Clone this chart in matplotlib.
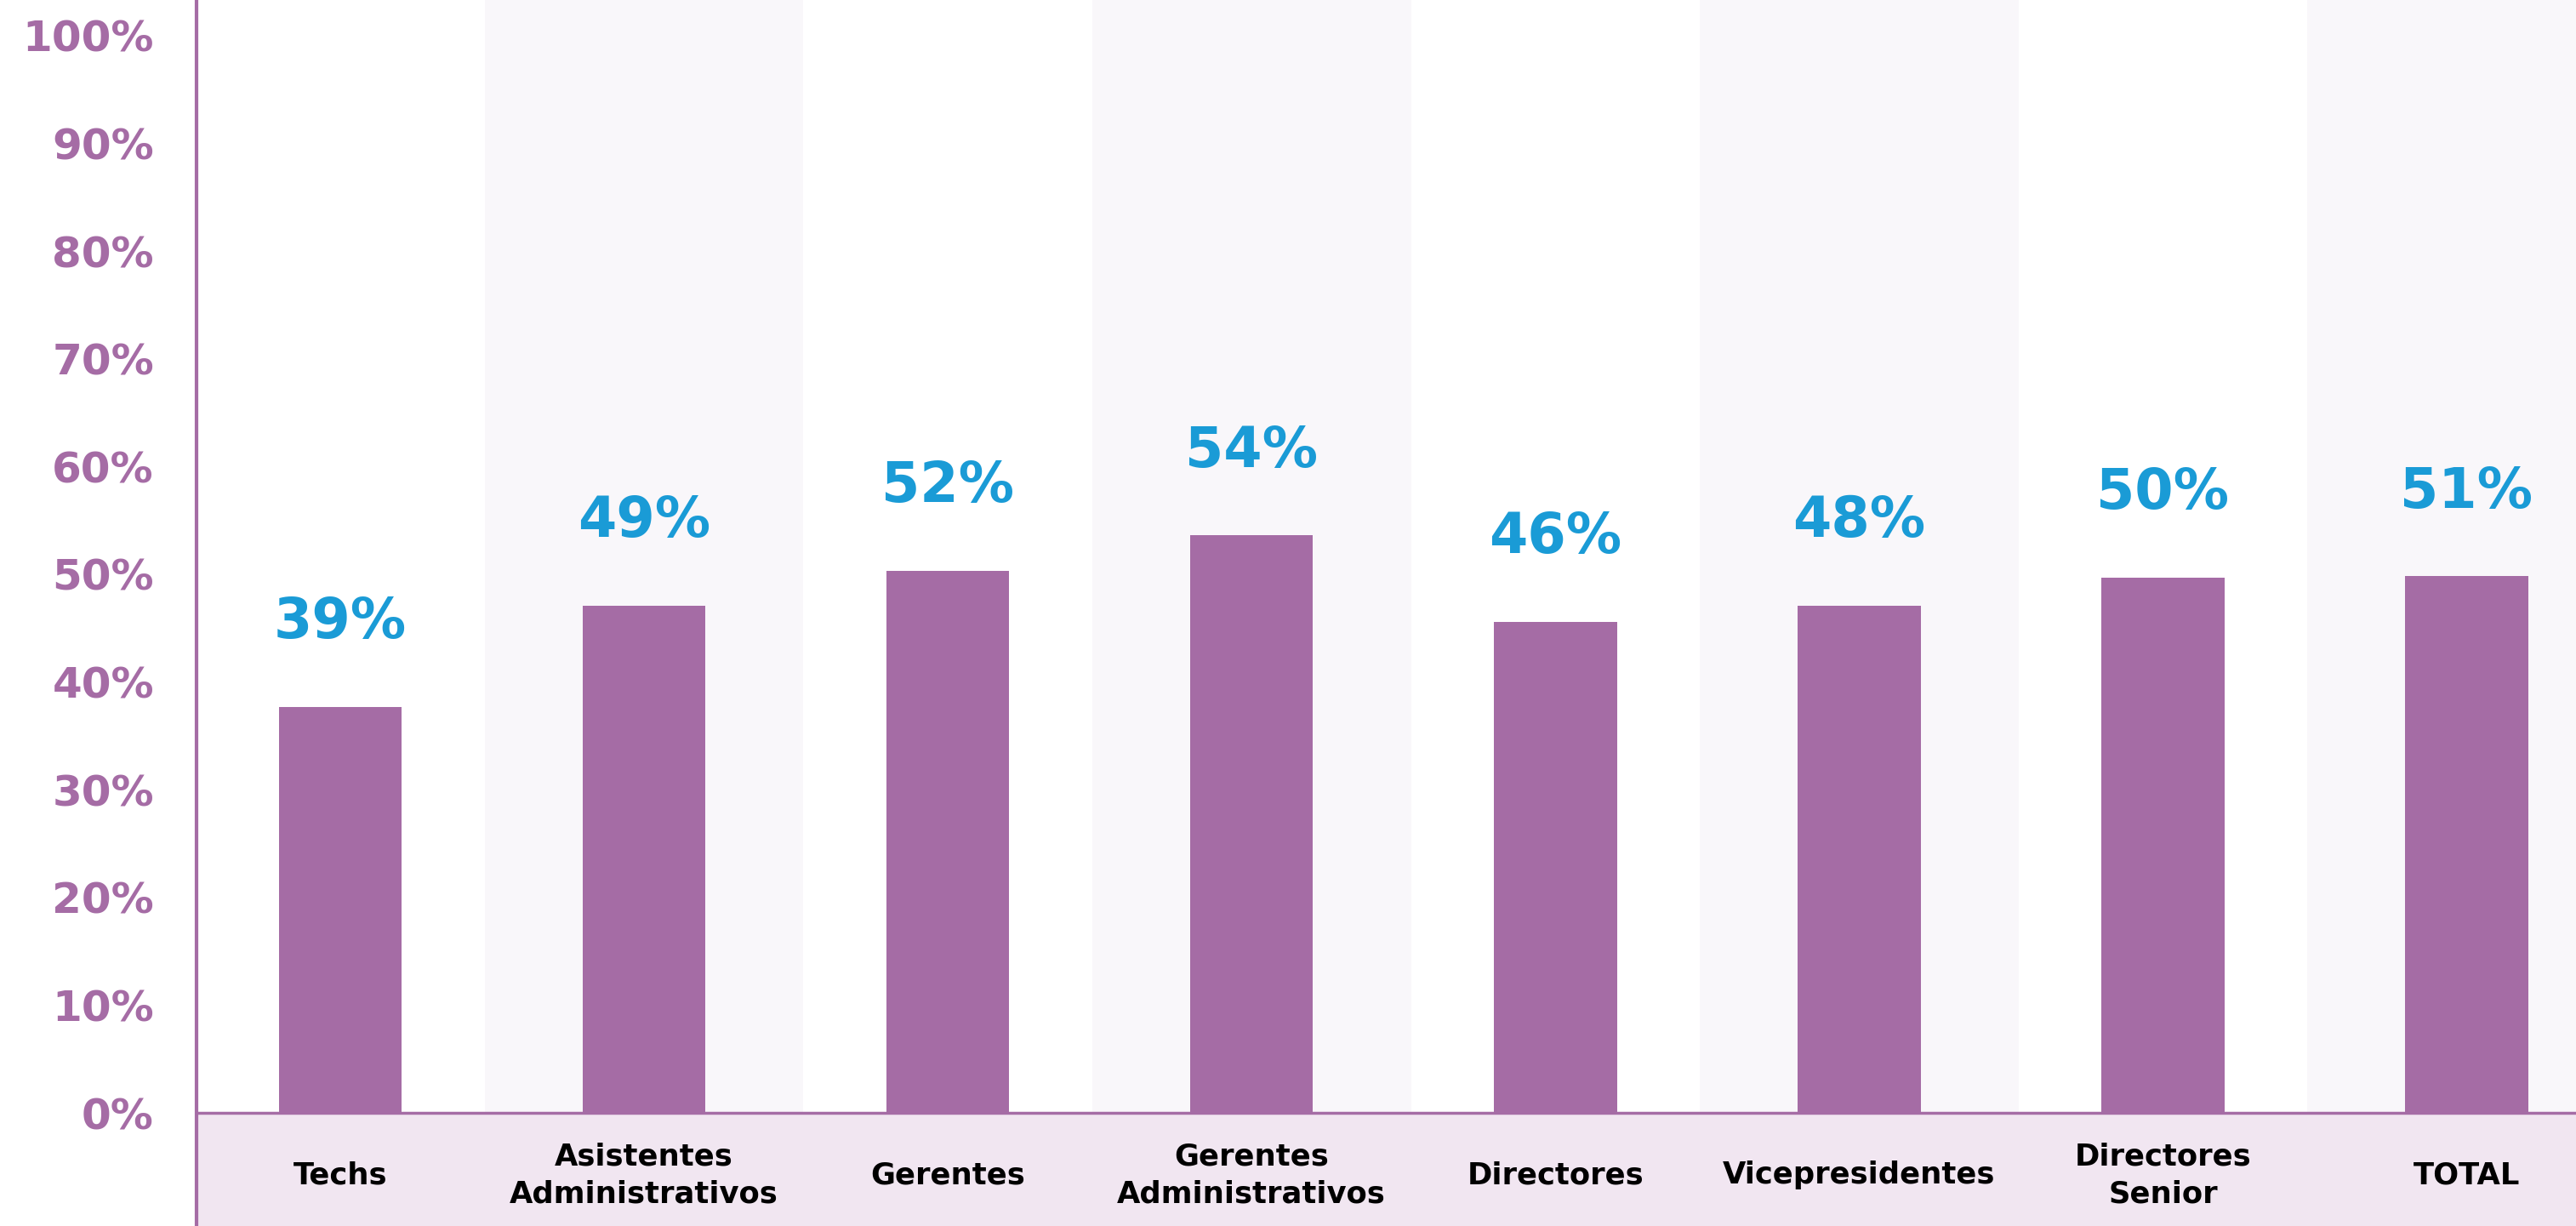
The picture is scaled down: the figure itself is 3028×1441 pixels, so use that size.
import matplotlib
matplotlib.use("Agg")
import matplotlib.pyplot as plt

# categories, bar heights (%) and the printed value labels
categories = ["Techs", "Asistentes\nAdministrativos", "Gerentes",
              "Gerentes\nAdministrativos", "Directores", "Vicepresidentes",
              "Directores\nSenior", "TOTAL"]
values = [37.7, 47.1, 50.3, 53.6, 45.6, 47.1, 49.7, 49.8]
labels = ["39%", "49%", "52%", "54%", "46%", "48%", "50%", "51%"]
yticks = list(range(0, 101, 10))

PURPLE = "#a56ca5"
BLUE = "#1a9bd6"
BAND = "#f1e6f1"
STRIPE = "#f9f7fa"

plt.rcParams['font.family'] = ['DejaVu Sans']

fig = plt.figure(figsize=(30.28, 14.41), dpi=100)
ax = fig.add_axes([231 / 3028, 0, 1 - 231 / 3028, 1])

x = list(range(len(categories)))

# light stripes behind every second column
for i in x:
    if i % 2 == 1:
        ax.axvspan(i - 0.525, i + 0.525, color=STRIPE, zorder=0, lw=0)

ax.axhspan(-10.5, 0, color=BAND, zorder=1, lw=0)
ax.axhline(0, color=PURPLE, lw=2.5, zorder=3)

ax.bar(x, values, width=0.405, color=PURPLE, zorder=2)

for i, v, t in zip(x, values, labels):
    ax.text(i, v + 7.8, t, ha='center', va='center', color=BLUE,
            fontsize=47, fontweight='bold')
    ax.text(i, -5.8, categories[i], ha='center', va='center', color='black',
            fontsize=25.5, fontweight='bold', linespacing=1.35)

ax.set_xlim(-0.473, 7.36)
ax.set_ylim(-10.5, 103.3)
ax.set_xticks([])
ax.set_yticks(yticks)
ax.set_yticklabels([f"{t}%" for t in yticks], color=PURPLE,
                   fontsize=36, fontweight='bold')
ax.tick_params(axis='y', length=0, pad=36)

for s in ['top', 'right', 'bottom']:
    ax.spines[s].set_visible(False)
ax.spines['left'].set_color(PURPLE)
ax.spines['left'].set_linewidth(3)
ax.spines['left'].set_zorder(4)

fig.savefig("out.png", dpi=100)
